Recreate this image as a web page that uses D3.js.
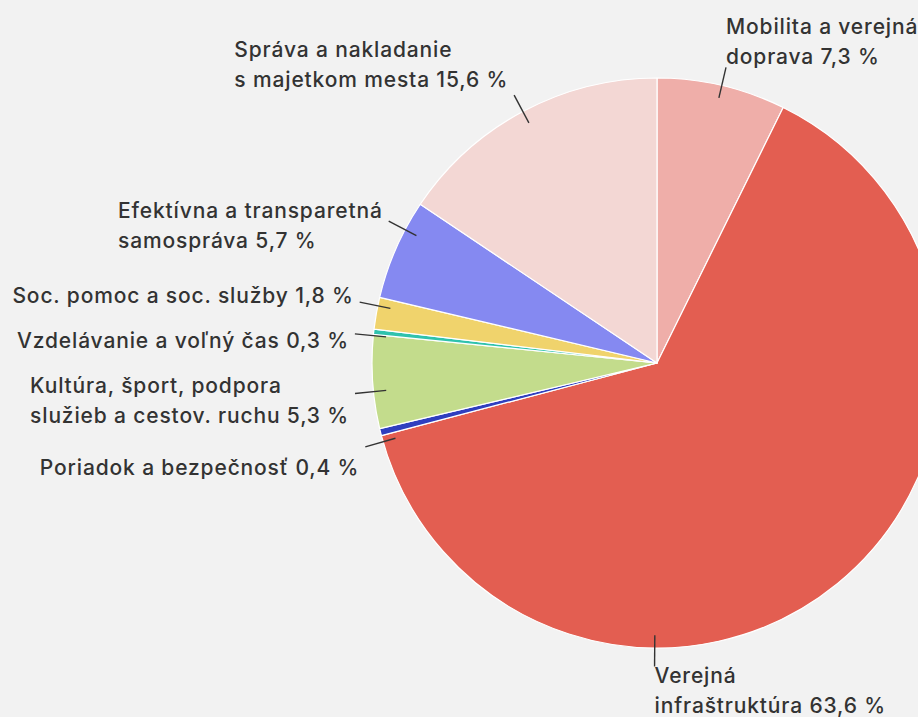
<!DOCTYPE html>
<html>
<head>
<meta charset="utf-8">
<script src="https://cdn.jsdelivr.net/npm/d3@7"></script>
<style>
  html, body { margin: 0; padding: 0; background: #f2f2f2; }
  svg { display: block; }
</style>
</head>
<body>
<div id="chart"></div>
<script>
// data, in drawing order (clockwise from 12 o'clock)
const categories = [
    ["Mobilita a verejná", "doprava"],
    ["Verejná", "infraštruktúra"],
    ["Poriadok a bezpečnosť"],
    ["Kultúra, šport, podpora", "služieb a cestov. ruchu"],
    ["Vzdelávanie a voľný čas"],
    ["Soc. pomoc a soc. služby"],
    ["Efektívna a transparetná", "samospráva"],
    ["Správa a nakladanie", "s majetkom mesta"]
];
const values = [7.3, 63.6, 0.4, 5.3, 0.3, 1.8, 5.7, 15.6];
const colors = ["#efaea9", "#e35e51", "#2f3fbf", "#c3dc8c", "#2fc2ad", "#f0d36c", "#8589f1", "#f3d7d4"];

// label placement tweaks: angle shift in degrees, first line offset in px
const labelShift = [0, 39.7, -2, -2, -0.8, 1.5, 4.3, 0];
const labelDy = [-41, 8, 20, -9, 6, -7, -11, -46];

const width = 918,
    height = 717;
const cx = 657, cy = 363, radius = 285;

const svg = d3.select("#chart").append("svg")
    .attr("width", width)
    .attr("height", height)
    .style("font-family", "Inter, 'Noto Sans', sans-serif")
    .style("font-size", "21px")
    .style("font-weight", 500)
    .style("letter-spacing", "0.85px");

svg.append("rect")
    .attr("width", width)
    .attr("height", height)
    .attr("fill", "#f2f2f2");

const pie = d3.pie().sort(null).value(d => d.value);
const arc = d3.arc().innerRadius(0).outerRadius(radius);

const data = values.map((v, i) => ({value: v, name: categories[i], color: colors[i], i: i}));
const arcs = pie(data);

const g = svg.append("g").attr("transform", `translate(${cx},${cy})`);

g.selectAll("path.slice").data(arcs)
    .join("path")
    .attr("class", "slice")
    .attr("d", arc)
    .attr("fill", d => d.data.color)
    .attr("stroke", "#fff")
    .attr("stroke-width", 1.2)
    .attr("stroke-linejoin", "round");

const fmt = v => d3.format(".1f")(v).replace(".", ",") + " %";
const pt = (a, r) => [r * Math.sin(a), -r * Math.cos(a)];

const lineHeight = 30;

arcs.forEach(function(d, i) {
    const mid = (d.startAngle + d.endAngle) / 2;
    const a = mid + labelShift[i] * Math.PI / 180;
    const p0 = pt(a, radius * 0.955);
    const p1 = pt(a, radius * 1.065);

    g.append("line")
        .attr("x1", p0[0]).attr("y1", p0[1])
        .attr("x2", p1[0]).attr("y2", p1[1])
        .attr("stroke", "#333")
        .attr("stroke-width", 1.4);

    const lines = d.data.name.slice();
    lines[lines.length - 1] += " " + fmt(d.data.value);

    const label = g.append("text")
        .attr("fill", "#333")
        .attr("dominant-baseline", "central");

    lines.forEach(function(t, k) {
        label.append("tspan")
            .attr("x", 0)
            .attr("y", k * lineHeight)
            .text(t);
    });

    // right half: block starts at line end, left half: block ends at line end
    const w = label.node().getBBox().width;
    const right = Math.sin(mid) >= 0;
    const tx = right ? p1[0] : p1[0] - 6 - w;
    label.attr("transform", `translate(${tx},${p1[1] + labelDy[i]})`);
});
</script>
</body>
</html>
